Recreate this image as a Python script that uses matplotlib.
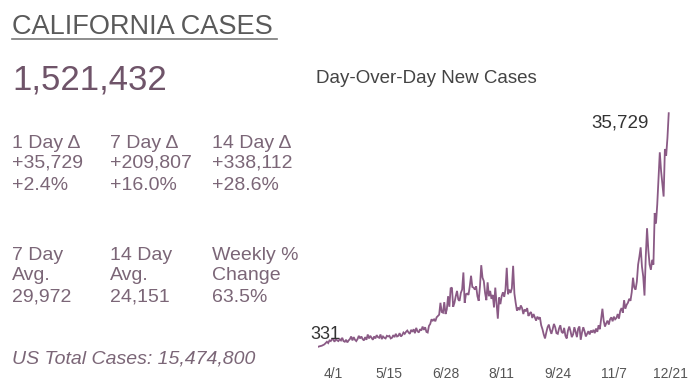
import matplotlib
matplotlib.use("Agg")
import matplotlib.pyplot as plt
import matplotlib.dates as mdates
from matplotlib.lines import Line2D
import pandas as pd

plt.rcParams['font.family'] = ['Liberation Sans', 'DejaVu Sans']

# daily new cases, 3/20 .. 12/20
new_cases = [
    331, 400, 450, 500, 600, 700, 900,
    1100, 900, 1300, 1200, 1500, 1400, 1100,
    1600, 1300, 1200, 1500, 1300, 1700, 1200,
    1100, 1400, 1000, 1300, 1500, 1900, 1300,
    1800, 1400, 1200, 1500, 2000, 1600, 1900,
    1500, 1300, 1800, 1400, 2200, 1600, 2000,
    1700, 1400, 1900, 1600, 2100, 1800, 1700,
    2200, 1500, 1900, 1700, 1600, 2000, 1900,
    2000, 1600, 1700, 2100, 1800, 2300, 1900,
    2000, 2400, 1900, 2100, 2500, 2300, 2600,
    2800, 2500, 2300, 2900, 2600, 3000, 2400,
    3200, 2700, 2500, 3000, 2800, 3400, 2900,
    3300, 2600, 2500, 3500, 3800, 4500, 4300,
    4500, 4200, 4800, 5000, 5200, 7000, 5600,
    5500, 7100, 5300, 6000, 8000, 6400, 9200,
    9300, 6400, 7000, 8000, 8800, 7500, 7300,
    8500, 9000, 11600, 7000, 8300, 8400, 8200,
    9500, 11100, 9400, 9300, 9000, 9500, 8000,
    7300, 9500, 12700, 10800, 10300, 8500, 7400,
    10100, 8000, 8800, 7600, 8200, 6300, 9300,
    7000, 4600, 7800, 6800, 8000, 8600, 7900,
    9000, 12300, 8300, 9000, 8500, 9200, 12600,
    8400, 7000, 5800, 6300, 5900, 6600, 6200,
    5300, 6000, 5700, 6200, 5000, 5400, 5600,
    4700, 5300, 4800, 4300, 4900, 4600, 4800,
    3600, 3000, 2200, 1600, 2500, 3300, 3700,
    2900, 2300, 3000, 3800, 3300, 2400, 2300,
    3100, 3600, 2600, 2400, 3200, 2000, 1600,
    2800, 3400, 2700, 1800, 2200, 3300, 2600,
    1800, 3100, 3400, 1400, 2500, 3300, 2700,
    1900, 2300, 2700, 2200, 2800, 2500, 2900,
    2400, 3100, 2600, 3600, 3000, 4500, 6100,
    4300, 3400, 3900, 4300, 3700, 4500, 4800,
    4200, 4900, 4500, 4700, 5300, 4600, 5800,
    6200, 5500, 7400, 6100, 6700, 7000, 7600,
    7300, 8600, 10800, 9300, 9000, 10200, 12800,
    14000, 15400, 12500, 11000, 8100, 14000, 18300,
    15000, 12800, 12000, 13500, 12800, 20600, 19000,
    21900, 26000, 29800, 27000, 25000, 23100, 30300,
    29300, 32000, 35729,
]
dates = pd.date_range("2020-03-20", periods=len(new_cases), freq="D")

tick_dates = pd.to_datetime(["2020-04-01", "2020-05-15", "2020-06-28", "2020-08-11",
                             "2020-09-24", "2020-11-07", "2020-12-21"])
tick_labels = ["4/1", "5/15", "6/28", "8/11", "9/24", "11/7", "12/21"]

stats_top = [["1 Day \u0394", "+35,729", "+2.4%"],
             ["7 Day \u0394", "+209,807", "+16.0%"],
             ["14 Day \u0394", "+338,112", "+28.6%"]]
stats_bottom = [["7 Day", "Avg.", "29,972"],
                ["14 Day", "Avg.", "24,151"],
                ["Weekly %", "Change", "63.5%"]]

W, H = 700, 385
fig = plt.figure(figsize=(7, 3.85), dpi=100)
fig.patch.set_facecolor("white")


def fx(px):
    return px / W


def fy(py):
    return 1 - py / H


# left panel text
fig.text(fx(12), fy(34), "CALIFORNIA CASES", fontsize=19.5, color="#5a5a5a", va="baseline")
fig.add_artist(Line2D([fx(12), fx(277)], [fy(39), fy(39)], color="#7a7a7a", lw=1.2))
fig.text(fx(12), fy(90), "1,521,432", fontsize=25, color="#6f5469", va="baseline")

stat_color = "#7b6677"
col_x = [12, 110, 212]
for i, col in enumerate(stats_top):
    for j, s in enumerate(col):
        fig.text(fx(col_x[i]), fy([148, 168, 190][j]), s, fontsize=14,
                 color=stat_color, va="baseline")
for i, col in enumerate(stats_bottom):
    for j, s in enumerate(col):
        fig.text(fx(col_x[i]), fy([260, 280, 302][j]), s, fontsize=14,
                 color=stat_color, va="baseline")

fig.text(fx(12), fy(363), "US Total Cases: 15,474,800", fontsize=14, style="italic",
         color=stat_color, va="baseline")

fig.text(fx(316), fy(83), "Day-Over-Day New Cases", fontsize=13.5, color="#444444",
         va="baseline")

# chart
ax = fig.add_axes([fx(318), fy(350), 352 / W, 250 / H])
ax.plot(dates, new_cases, color="#8a5a85", lw=1.3, solid_joinstyle="miter")
x0 = mdates.date2num(dates[0])
ax.set_xlim(x0, x0 + 276)
ax.set_ylim(-150, 37727)
for sp in ax.spines.values():
    sp.set_visible(False)
ax.set_yticks([])
ax.set_xticks(tick_dates)
ax.set_xticklabels(tick_labels, fontsize=10, color="#555555")
ax.tick_params(axis="x", length=0, pad=12)
ax.patch.set_alpha(0)

ax.annotate(f"{new_cases[0]:,}", xy=(dates[0], new_cases[0]), xytext=(-8, 8),
            textcoords="offset pixels", fontsize=13, color="#333333",
            ha="left", va="baseline")
ax.annotate(f"{new_cases[-1]:,}", xy=(dates[-1], new_cases[-1]), xytext=(-20, -14),
            textcoords="offset pixels", fontsize=13.5, color="#333333",
            ha="right", va="baseline")

fig.savefig("out.png", dpi=100)
